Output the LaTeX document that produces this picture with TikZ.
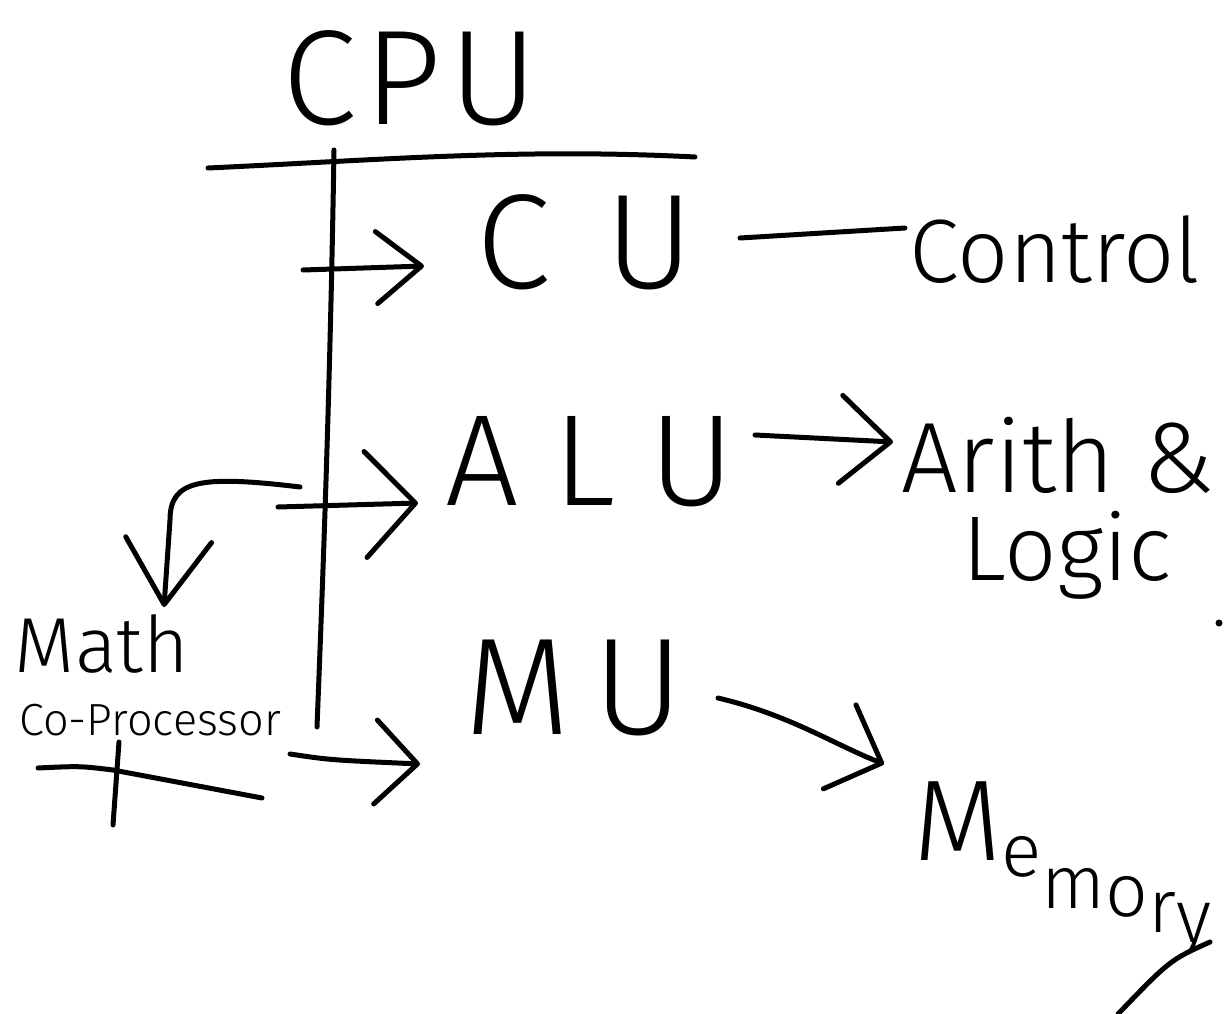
\documentclass[tikz,border=0pt]{standalone}
\usepackage{fontspec}
\setmainfont{Fira Sans Light}
\usetikzlibrary{arrows.meta}
\begin{document}
\begin{tikzpicture}[x=1pt,y=-1pt,
  ink/.style={line width=5pt,line cap=round,line join=round},
  txt/.style={inner sep=0pt,anchor=base},
  ahead/.style 2 args={-{Straight Barb[length=#1,width=#2,round]}}]
\useasboundingbox (0,0) rectangle (1224,1014);

% labels
\node[txt,font=\fontsize{135}{135}\selectfont] (cpu) at (410,125) {C\kern8pt P\kern8pt U};
\node[txt,font=\fontsize{135}{135}\selectfont] (cu) at (585,288) {C\kern55pt U};
\node[txt,font=\fontsize{90}{90}\selectfont] (ctrl) at (1055,282) {Control};
\node[txt,font=\fontsize{130}{130}\selectfont] (alu) at (590,505) {A\kern34pt L\kern34pt U};
\node[txt,font=\fontsize{100}{100}\selectfont] (arith) at (1058,492) {Arith \&};
\node[txt,font=\fontsize{92}{92}\selectfont] (logic) at (1067,580) {Logic};
\node[txt,font=\fontsize{138}{138}\selectfont] (mu) at (574,734) {M\kern22pt U};
\node[txt,font=\fontsize{78}{78}\selectfont] (math) at (102,672) {Math};
\node[txt,font=\fontsize{45}{45}\selectfont] (copro) at (150,735) {Co-Processor};
\node[txt,anchor=base west,font=\fontsize{75}{75}\selectfont] (memory) at (913,860)
  {{\fontsize{115}{115}\selectfont M}\raisebox{-16pt}{e}\raisebox{-48pt}{m}\raisebox{-56pt}{o}\raisebox{-72pt}{r}\raisebox{-82pt}{y}};

% connector end points
\coordinate (ulA) at (208,168);  \coordinate (ulB) at (695,157);
\coordinate (trA) at (334,150);  \coordinate (trB) at (317,727);
\coordinate (cuT) at (303,270);  \coordinate (cuH) at (424,266);
\coordinate (cuR) at (740,238);  \coordinate (ctL) at (905,228);
\coordinate (aluT) at (278,507); \coordinate (aluH) at (418,503);
\coordinate (mathT) at (300,487); \coordinate (mathH) at (164,607);
\coordinate (aluR) at (755,435); \coordinate (arH) at (893,442);
\coordinate (muT) at (290,754);  \coordinate (muH) at (420,764);
\coordinate (muR) at (718,698);  \coordinate (memH) at (884,764);
\coordinate (cpA) at (38,768);   \coordinate (cpB) at (262,798);
\coordinate (cpC) at (119,742);  \coordinate (cpD) at (113,825);
\coordinate (myA) at (1210,942); \coordinate (myB) at (1118,1014);

% title bar and trunk
\draw[ink] (ulA) .. controls (380,160) and (520,148) .. (ulB);
\draw[ink] (trA) .. controls (330,400) and (322,600) .. (trB);

% arrows
\draw[ink,ahead={45pt}{72pt}] (cuT) -- (cuH);
\draw[ink] (cuR) -- (ctL);
\draw[ink,ahead={50pt}{106pt}] (aluT) -- (aluH);
\draw[ink,ahead={65pt}{86pt}] (mathT) .. controls (200,475) and (170,480) .. (170,520) -- (mathH);
\draw[ink,ahead={50pt}{88pt}] (aluR) -- (arH);
\draw[ink,ahead={42pt}{84pt}] (muT) .. controls (330,760) .. (muH);
\draw[ink,ahead={45pt}{90pt}] (muR) .. controls (790,715) and (835,745) .. (memH);

% Math co-processor strokes
\draw[ink] (cpA) .. controls (80,766) .. (113,770) -- (cpB);
\draw[ink] (cpC) -- (cpD);

% tail of Memory and stray dot
\draw[ink] (myA) .. controls (1170,960) .. (myB);
\fill (1219,623) circle (3.5pt);
\end{tikzpicture}
\end{document}
